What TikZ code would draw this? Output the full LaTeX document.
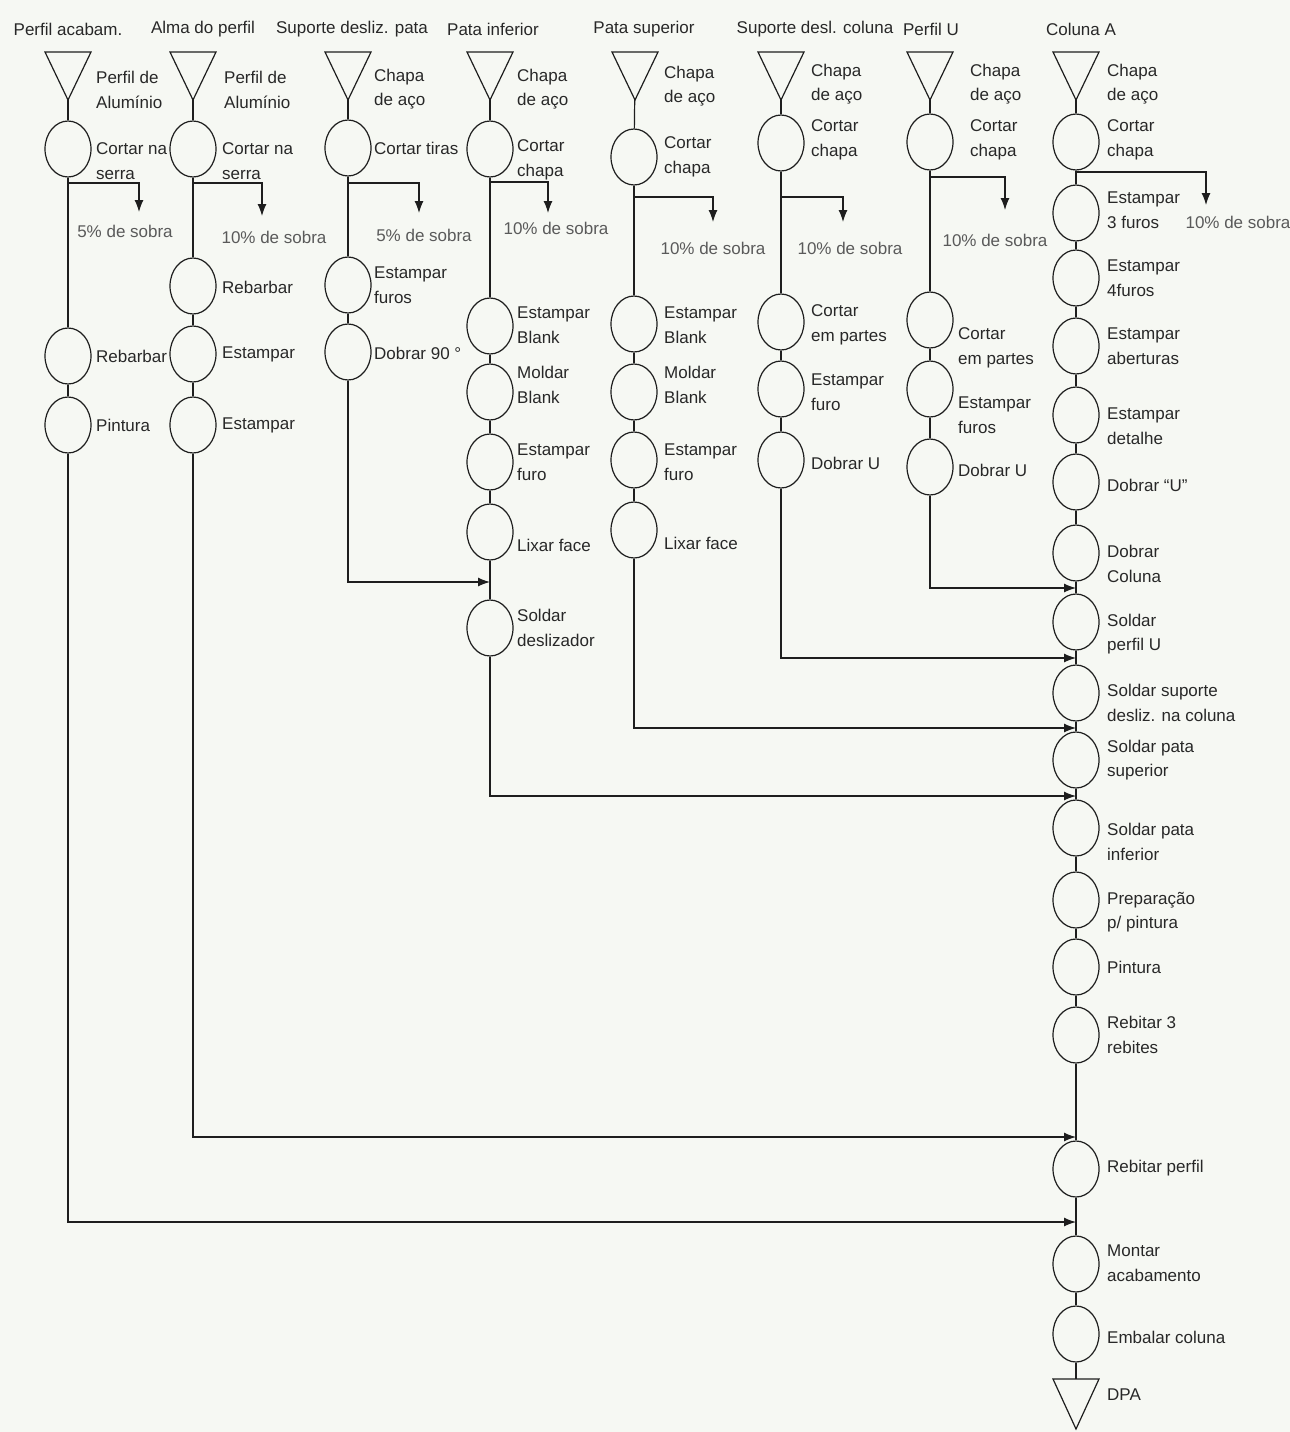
\documentclass[tikz,border=0pt]{standalone}
\usepackage{fontspec}
\setmainfont{Liberation Sans}
\usetikzlibrary{shapes.geometric,arrows.meta}
\definecolor{paper}{RGB}{246,248,243}
\definecolor{ink}{RGB}{30,30,30}
\definecolor{txt}{RGB}{40,40,40}
\definecolor{faint}{RGB}{90,90,90}
\newcommand{\lblfont}{\fontsize{17}{24.5}\selectfont}

\begin{document}
\begin{tikzpicture}[x=1pt,y=-1pt,
  op/.style={ellipse, draw=ink, line width=1.2pt, minimum width=46, minimum height=56, inner sep=0pt},
  store/.style={rectangle, minimum width=46, minimum height=48, inner sep=0pt, outer sep=0pt},
  lbl/.style={anchor=west, align=left, inner sep=0pt, font=\lblfont, text=txt},
  hdr/.style={inner sep=0pt, font=\lblfont, text=txt},
  scrap/.style={inner sep=0pt, font=\lblfont, text=faint},
  flow/.style={draw=ink, line width=1.2pt},
  tip/.style={-{Latex[length=12pt,width=9pt]}}
]
\fill[paper] (0,0) rectangle (1290,1432);
\useasboundingbox (0,0) rectangle (1290,1432);

% ---- column headers
\node[hdr] (h1) at (68,29)   {Perfil acabam.};
\node[hdr] (h2) at (203,29)  {Alma do perfil};
\node[hdr] (h3) at (352,29)  {Suporte desliz. pata};
\node[hdr] (h4) at (493,29)  {Pata inferior};
\node[hdr] (h5) at (644,29)  {Pata superior};
\node[hdr] (h6) at (815,29)  {Suporte desl. coluna};
\node[hdr] (h7) at (931,29)  {Perfil U};
\node[hdr] (h8) at (1081,29) {Coluna A};

% ---- storage triangles (raw material)
\node[store] (t1) at (68,76)   {};
\node[store] (t2) at (193,76)  {};
\node[store] (t3) at (348,76)  {};
\node[store] (t4) at (490,76)  {};
\node[store] (t5) at (635,76)  {};
\node[store] (t6) at (781,76)  {};
\node[store] (t7) at (930,76)  {};
\node[store] (t8) at (1076,76) {};
\node[store, minimum height=50] (t9) at (1076,1404) {};
\foreach \t in {t1,t2,t3,t4,t5,t6,t7,t8,t9}
  \draw[flow, line join=miter] (\t.north west) -- (\t.north east) -- (\t.south) -- cycle;

\node[lbl] (t1l) at (96,90)   {Perfil de\\Alumínio};
\node[lbl] (t2l) at (224,90)  {Perfil de\\Alumínio};
\node[lbl] (t3l) at (374,89)  {Chapa\\de aço};
\node[lbl] (t4l) at (517,89)  {Chapa\\de aço};
\node[lbl] (t5l) at (664,86)  {Chapa\\de aço};
\node[lbl] (t6l) at (811,84)  {Chapa\\de aço};
\node[lbl] (t7l) at (970,84)  {Chapa\\de aço};
\node[lbl] (t8l) at (1107,84) {Chapa\\de aço};
\node[lbl] (t9l) at (1107,1395) {DPA};

% ---- column 1: Perfil acabam.
\node[op] (c11) at (68,149) {};  \node[lbl] (c11l) at (96,161) {Cortar na\\serra};
\node[op] (c12) at (68,356) {};  \node[lbl] (c12l) at (96,356) {Rebarbar};
\node[op] (c13) at (68,425) {};  \node[lbl] (c13l) at (96,425) {Pintura};

% ---- column 2: Alma do perfil
\node[op] (c21) at (193,149) {}; \node[lbl] (c21l) at (222,161) {Cortar na\\serra};
\node[op] (c22) at (193,286) {}; \node[lbl] (c22l) at (222,287) {Rebarbar};
\node[op] (c23) at (193,354) {}; \node[lbl] (c23l) at (222,354) {Estampar};
\node[op] (c24) at (193,425) {}; \node[lbl] (c24l) at (222,425) {Estampar};

% ---- column 3: Suporte desliz. pata
\node[op] (c31) at (348,148) {}; \node[lbl] (c31l) at (374,148) {Cortar tiras};
\node[op] (c32) at (348,285) {}; \node[lbl] (c32l) at (374,285) {Estampar\\furos};
\node[op] (c33) at (348,352) {}; \node[lbl] (c33l) at (374,353) {Dobrar 90 °};

% ---- column 4: Pata inferior
\node[op] (c41) at (490,149) {}; \node[lbl] (c41l) at (517,160) {Cortar\\chapa};
\node[op] (c42) at (490,326) {}; \node[lbl] (c42l) at (517,325) {Estampar\\Blank};
\node[op] (c43) at (490,392) {}; \node[lbl] (c43l) at (517,385) {Moldar\\Blank};
\node[op] (c44) at (490,462) {}; \node[lbl] (c44l) at (517,462) {Estampar\\furo};
\node[op] (c45) at (490,532) {}; \node[lbl] (c45l) at (517,545) {Lixar face};
\node[op] (c46) at (490,628) {}; \node[lbl] (c46l) at (517,628) {Soldar\\deslizador};

% ---- column 5: Pata superior
\node[op] (c51) at (634,157) {}; \node[lbl] (c51l) at (664,157) {Cortar\\chapa};
\node[op] (c52) at (634,324) {}; \node[lbl] (c52l) at (664,325) {Estampar\\Blank};
\node[op] (c53) at (634,392) {}; \node[lbl] (c53l) at (664,385) {Moldar\\Blank};
\node[op] (c54) at (634,460) {}; \node[lbl] (c54l) at (664,462) {Estampar\\furo};
\node[op] (c55) at (634,530) {}; \node[lbl] (c55l) at (664,543) {Lixar face};

% ---- column 6: Suporte desl. coluna
\node[op] (c61) at (781,143) {}; \node[lbl] (c61l) at (811,140) {Cortar\\chapa};
\node[op] (c62) at (781,322) {}; \node[lbl] (c62l) at (811,325) {Cortar\\em partes};
\node[op] (c63) at (781,389) {}; \node[lbl] (c63l) at (811,392) {Estampar\\furo};
\node[op] (c64) at (781,460) {}; \node[lbl] (c64l) at (811,463) {Dobrar U};

% ---- column 7: Perfil U
\node[op] (c71) at (930,142) {}; \node[lbl] (c71l) at (970,140) {Cortar\\chapa};
\node[op] (c72) at (930,320) {}; \node[lbl] (c72l) at (958,348) {Cortar\\em partes};
\node[op] (c73) at (930,389) {}; \node[lbl] (c73l) at (958,415) {Estampar\\furos};
\node[op] (c74) at (930,467) {}; \node[lbl] (c74l) at (958,470) {Dobrar U};

% ---- column 8: Coluna A (main line)
\node[op] (c81)  at (1076,142)  {}; \node[lbl] (c81l)  at (1107,140)  {Cortar\\chapa};
\node[op] (c82)  at (1076,213)  {}; \node[lbl] (c82l)  at (1107,210)  {Estampar\\3 furos};
\node[op] (c83)  at (1076,278)  {}; \node[lbl] (c83l)  at (1107,278)  {Estampar\\4furos};
\node[op] (c84)  at (1076,346)  {}; \node[lbl] (c84l)  at (1107,346)  {Estampar\\aberturas};
\node[op] (c85)  at (1076,415)  {}; \node[lbl] (c85l)  at (1107,426)  {Estampar\\detalhe};
\node[op] (c86)  at (1076,482)  {}; \node[lbl] (c86l)  at (1107,485)  {Dobrar “U”};
\node[op] (c87)  at (1076,553)  {}; \node[lbl] (c87l)  at (1107,564)  {Dobrar\\Coluna};
\node[op] (c88)  at (1076,622)  {}; \node[lbl] (c88l)  at (1107,634)  {Soldar\\perfil U};
\node[op] (c89)  at (1076,693)  {}; \node[lbl] (c89l)  at (1107,703)  {Soldar suporte\\desliz. na coluna};
\node[op] (c810) at (1076,760)  {}; \node[lbl] (c810l) at (1107,760)  {Soldar pata\\superior};
\node[op] (c811) at (1076,828)  {}; \node[lbl] (c811l) at (1107,842)  {Soldar pata\\inferior};
\node[op] (c812) at (1076,900)  {}; \node[lbl] (c812l) at (1107,912)  {Preparação\\p/ pintura};
\node[op] (c813) at (1076,967)  {}; \node[lbl] (c813l) at (1107,967)  {Pintura};
\node[op] (c814) at (1076,1035) {}; \node[lbl] (c814l) at (1107,1035) {Rebitar 3\\rebites};
\node[op] (c815) at (1076,1169) {}; \node[lbl] (c815l) at (1107,1168) {Rebitar perfil};
\node[op] (c816) at (1076,1264) {}; \node[lbl] (c816l) at (1107,1263) {Montar\\acabamento};
\node[op] (c817) at (1076,1334) {}; \node[lbl] (c817l) at (1107,1337) {Embalar coluna};

% ---- sequence connectors within each column
\foreach \a/\b in {t1/c11, c11/c12, c12/c13,
                   t2/c21, c21/c22, c22/c23, c23/c24,
                   t3/c31, c31/c32, c32/c33,
                   t4/c41, c41/c42, c42/c43, c43/c44, c44/c45, c45/c46,
                   t5/c51, c51/c52, c52/c53, c53/c54, c54/c55,
                   t6/c61, c61/c62, c62/c63, c63/c64,
                   t7/c71, c71/c72, c72/c73, c73/c74,
                   t8/c81, c81/c82, c82/c83, c83/c84, c84/c85, c85/c86, c86/c87,
                   c87/c88, c88/c89, c89/c810, c810/c811, c811/c812, c812/c813,
                   c813/c814, c814/c815, c815/c816, c816/c817, c817/t9}
  \draw[flow] (\a) -- (\b);

% ---- scrap branches after cutting
\coordinate (b1) at (68,183);   \coordinate (s1) at (139,212);
\coordinate (b2) at (193,183);  \coordinate (s2) at (262,216);
\coordinate (b3) at (348,183);  \coordinate (s3) at (419,213);
\coordinate (b4) at (490,182);  \coordinate (s4) at (548,213);
\coordinate (b5) at (634,197);  \coordinate (s5) at (713,222);
\coordinate (b6) at (781,197);  \coordinate (s6) at (843,222);
\coordinate (b7) at (930,177);  \coordinate (s7) at (1005,210);
\coordinate (b8) at (1076,172); \coordinate (s8) at (1206,205);
\foreach \i in {1,...,8}
  \draw[flow, tip] (b\i) -| (s\i);

\node[scrap] (w1) at (125,231)  {5\% de sobra};
\node[scrap] (w2) at (274,237)  {10\% de sobra};
\node[scrap] (w3) at (424,235)  {5\% de sobra};
\node[scrap] (w4) at (556,228)  {10\% de sobra};
\node[scrap] (w5) at (713,248)  {10\% de sobra};
\node[scrap] (w6) at (850,248)  {10\% de sobra};
\node[scrap] (w7) at (995,240)  {10\% de sobra};
\node[scrap] (w8) at (1238,222) {10\% de sobra};

% ---- merge points on the receiving lines
\coordinate (m3) at (490,582);
\coordinate (m7) at (1076,588);
\coordinate (m6) at (1076,658);
\coordinate (m5) at (1076,728);
\coordinate (m4) at (1076,796);
\coordinate (m2) at (1076,1137);
\coordinate (m1) at (1076,1222);

\draw[flow, tip] (c33) |- (m3);
\draw[flow, tip] (c74) |- (m7);
\draw[flow, tip] (c64) |- (m6);
\draw[flow, tip] (c55) |- (m5);
\draw[flow, tip] (c46) |- (m4);
\draw[flow, tip] (c24) |- (m2);
\draw[flow, tip] (c13) |- (m1);
\end{tikzpicture}
\end{document}
